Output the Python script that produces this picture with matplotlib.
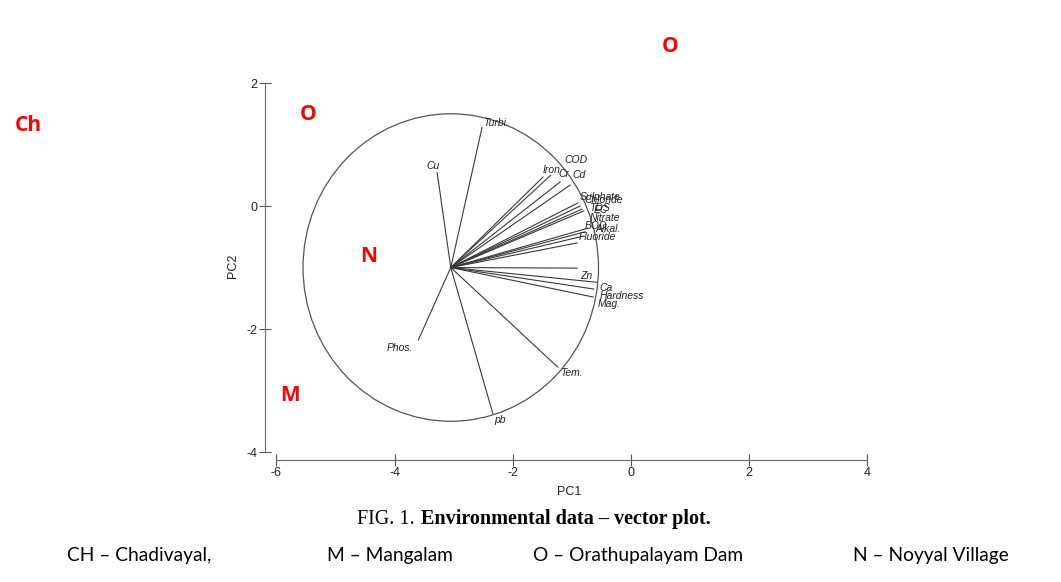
import matplotlib
matplotlib.use("Agg")
import matplotlib.pyplot as plt
from matplotlib.patches import Ellipse

plt.rcParams["axes.unicode_minus"] = False

# vector plot data (PC1, PC2 end points)
origin = (-3.05, -1.0)
radius = 2.5
names = ["Turbi.", "Cu", "Iron", "COD", "Cr", "Cd",
         "Sulphate", "Chloride", "TDS", "EC",
         "Nitrate", "BOD", "Alkal.", "Fluoride",
         "Zn", "Ca", "Hardness", "Mag.", "Tem.", "pb", "Phos."]
pc1 = [-2.52, -3.28, -1.49, -1.36, -1.20, -1.03,
       -0.90, -0.86, -0.83, -0.80,
       -0.73, -0.78, -0.81, -0.91,
       -0.91, -0.58, -0.63, -0.64, -1.24, -2.34, -3.60]
pc2 = [1.28, 0.54, 0.47, 0.50, 0.39, 0.34,
       0.05, 0.00, -0.05, -0.08,
       -0.36, -0.42, -0.49, -0.60,
       -1.01, -1.24, -1.35, -1.48, -2.62, -3.37, -2.18]

# label offsets in points (x, y)
offsets = {"Turbi.": (1, 3), "Cu": (-8, 5), "Iron": (0, 5), "COD": (10, 11),
           "Cr": (-1.5, 6), "Cd": (1.5, 7), "Sulphate": (1, 4), "Chloride": (3, 4),
           "TDS": (5, 1), "EC": (7, 1), "Nitrate": (1, 7), "BOD": (0, 4),
           "Alkal.": (9, 5), "Fluoride": (1, 4), "Zn": (2, -6), "Ca": (2, -4),
           "Hardness": (4, -5), "Mag.": (3, -5), "Tem.": (2, -4), "pb": (1, -5),
           "Phos.": (-23, -6)}

sites = ["Ch", "O", "N", "M", "O"]
site_xy = [(0.027, 0.785), (0.29, 0.803), (0.347, 0.56), (0.273, 0.32), (0.632, 0.92)]

legend_items = ["CH \u2013 Chadivayal,", "M \u2013 Mangalam",
                "O \u2013 Orathupalayam Dam", "N \u2013 Noyyal Village"]
legend_x = [0.063, 0.308, 0.502, 0.804]

fig = plt.figure(figsize=(10.61, 5.82), dpi=100)
ax = fig.add_axes([0.2494, 0.2096, 0.5737, 0.6689])
ax.set_xlim(-6.2, 4.1)
ax.set_ylim(-4.13, 2.2)

lc = "#3a3a3a"
ax.add_patch(Ellipse(origin, 2 * radius, 2 * radius, fill=False, ec="#555555", lw=0.9))
for n, x, y in zip(names, pc1, pc2):
    ax.plot([origin[0], x], [origin[1], y], color=lc, lw=0.8)
    ax.annotate(n, (x, y), xytext=offsets[n], textcoords="offset points",
                fontsize=7.5, style="italic", color="#222222", va="center",
                family="Liberation Sans")

for s in ["top", "right"]:
    ax.spines[s].set_visible(False)
ax.spines["left"].set_bounds(-4, 2)
ax.spines["bottom"].set_bounds(-6, 4)
for s in ["left", "bottom"]:
    ax.spines[s].set_color("#666666")
ax.set_xticks([-6, -4, -2, 0, 2, 4])
ax.set_yticks([-4, -2, 0, 2])
ax.tick_params(direction="inout", length=8.5, width=0.8, colors="#555555",
               labelcolor="#222222", labelsize=9, pad=1)
for lab in ax.get_xticklabels() + ax.get_yticklabels():
    lab.set_family("Liberation Sans")
ax.set_xlabel("PC1", fontsize=9, color="#222222", labelpad=5, family="Liberation Sans")
ax.set_ylabel("PC2", fontsize=9, color="#222222", labelpad=5, family="Liberation Sans")

for s, (fx, fy) in zip(sites, site_xy):
    fig.text(fx, fy, s, color="red", fontsize=15, fontweight="bold",
             family="Open Sans", ha="center", va="center")

fig.text(0.3365, 0.108, "FIG. 1.", family="Liberation Serif", fontsize=14.5,
         ha="left", va="center")
fig.text(0.397, 0.108, "Environmental data \u2013 vector plot.", family="Liberation Serif",
         fontsize=14.5, fontweight="bold", ha="left", va="center")
for t, fx in zip(legend_items, legend_x):
    fig.text(fx, 0.045, t, family="Lato", fontsize=13.8, ha="left", va="center")

fig.savefig("out.png", dpi=100)
